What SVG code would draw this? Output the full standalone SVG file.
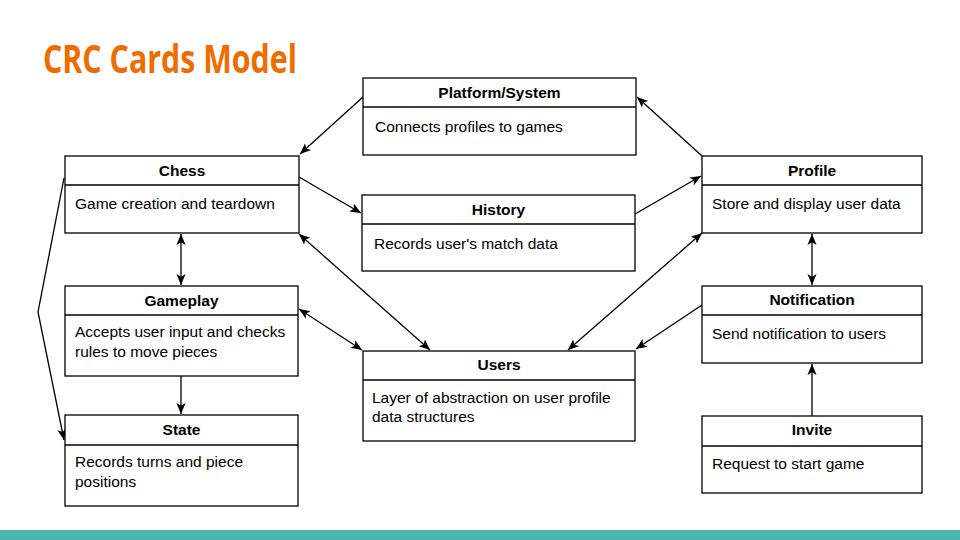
<svg xmlns="http://www.w3.org/2000/svg" width="960" height="540" viewBox="0 0 960 540">
<style>
.box{fill:#fff;stroke:#000;stroke-width:1.3}
.div{stroke:#000;stroke-width:1.3}
.hd{font-family:"Liberation Sans",Arial,Helvetica,sans-serif;font-size:15.5px;font-weight:bold;text-anchor:middle;fill:#000}
.bd{font-family:"Liberation Sans",Arial,Helvetica,sans-serif;font-size:15.5px;fill:#000}
.c{fill:none;stroke:#000;stroke-width:1.3}
</style>
<defs>
<marker id="ah" viewBox="0 0 10 10" refX="10" refY="5" markerWidth="11" markerHeight="11" markerUnits="userSpaceOnUse" orient="auto-start-reverse">
<path d="M0,0.8 L10,5 L0,9.2 L2.5,5 z" fill="#000"/>
</marker>
</defs>
<rect width="960" height="540" fill="#fff"/>
<text x="43" y="73" font-family="'Liberation Sans Narrow','Open Sans',sans-serif" font-size="40" font-weight="bold" fill="#EF6C00" textLength="254" lengthAdjust="spacingAndGlyphs">CRC Cards Model</text>
<rect x="0" y="530" width="960" height="10" fill="#4DB6AC"/>

<g id="connectors">
<line class="c" x1="363" y1="97" x2="300" y2="154" marker-end="url(#ah)"/>
<line class="c" x1="299" y1="177" x2="361" y2="213" marker-end="url(#ah)"/>
<line class="c" x1="181" y1="234" x2="181" y2="285" marker-start="url(#ah)" marker-end="url(#ah)"/>
<line class="c" x1="299" y1="234" x2="430" y2="350" marker-start="url(#ah)" marker-end="url(#ah)"/>
<line class="c" x1="299" y1="309" x2="362" y2="350" marker-start="url(#ah)" marker-end="url(#ah)"/>
<line class="c" x1="181" y1="376" x2="181" y2="414" marker-end="url(#ah)"/>
<polyline class="c" points="64,178 38,312 64,440" marker-end="url(#ah)"/>
<line class="c" x1="635" y1="214" x2="701" y2="176" marker-end="url(#ah)"/>
<line class="c" x1="702" y1="156" x2="637" y2="97" marker-end="url(#ah)"/>
<line class="c" x1="702" y1="233" x2="568" y2="350" marker-start="url(#ah)" marker-end="url(#ah)"/>
<line class="c" x1="812" y1="234" x2="812" y2="285" marker-start="url(#ah)" marker-end="url(#ah)"/>
<line class="c" x1="702" y1="305" x2="636" y2="349" marker-end="url(#ah)"/>
<line class="c" x1="812" y1="416" x2="812" y2="364" marker-end="url(#ah)"/>
</g>

<g id="platform">
<rect class="box" x="363" y="78" width="273" height="77"/>
<line class="div" x1="363" y1="107" x2="636" y2="107"/>
<text class="hd" x="499.5" y="98">Platform/System</text>
<text class="bd" x="375" y="132">Connects profiles to games</text>
</g>
<g id="chess">
<rect class="box" x="65" y="156" width="234" height="77"/>
<line class="div" x1="65" y1="185" x2="299" y2="185"/>
<text class="hd" x="182" y="176">Chess</text>
<text class="bd" x="75" y="209">Game creation and teardown</text>
</g>
<g id="history">
<rect class="box" x="362" y="195" width="273" height="76"/>
<line class="div" x1="362" y1="224" x2="635" y2="224"/>
<text class="hd" x="498.5" y="215">History</text>
<text class="bd" x="374" y="249">Records user's match data</text>
</g>
<g id="profile">
<rect class="box" x="702" y="156" width="220" height="77"/>
<line class="div" x1="702" y1="185" x2="922" y2="185"/>
<text class="hd" x="812" y="176">Profile</text>
<text class="bd" x="712" y="209">Store and display user data</text>
</g>
<g id="gameplay">
<rect class="box" x="65" y="286" width="233" height="90"/>
<line class="div" x1="65" y1="315" x2="298" y2="315"/>
<text class="hd" x="181.5" y="306">Gameplay</text>
<text class="bd" x="75" y="337">Accepts user input and checks</text>
<text class="bd" x="75" y="357">rules to move pieces</text>
</g>
<g id="notification">
<rect class="box" x="702" y="286" width="220" height="77"/>
<line class="div" x1="702" y1="315" x2="922" y2="315"/>
<text class="hd" x="812" y="305">Notification</text>
<text class="bd" x="712" y="339">Send notification to users</text>
</g>
<g id="users">
<rect class="box" x="363" y="351" width="272" height="90"/>
<line class="div" x1="363" y1="380" x2="635" y2="380"/>
<text class="hd" x="499" y="370">Users</text>
<text class="bd" x="372" y="403">Layer of abstraction on user profile</text>
<text class="bd" x="372" y="422">data structures</text>
</g>
<g id="state">
<rect class="box" x="65" y="415" width="233" height="91"/>
<line class="div" x1="65" y1="445" x2="298" y2="445"/>
<text class="hd" x="181.5" y="435">State</text>
<text class="bd" x="75" y="467">Records turns and piece</text>
<text class="bd" x="75" y="487">positions</text>
</g>
<g id="invite">
<rect class="box" x="702" y="416" width="220" height="77"/>
<line class="div" x1="702" y1="446" x2="922" y2="446"/>
<text class="hd" x="812" y="435">Invite</text>
<text class="bd" x="712" y="469">Request to start game</text>
</g>
</svg>
